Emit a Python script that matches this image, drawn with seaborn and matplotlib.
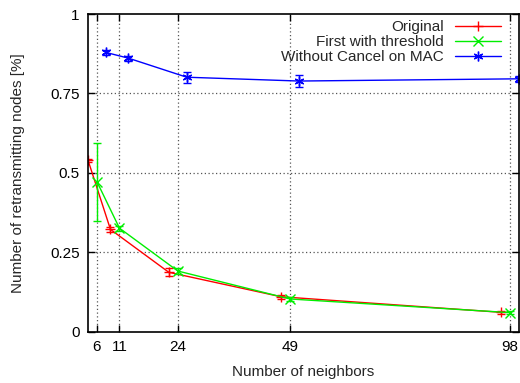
import matplotlib
matplotlib.use("Agg")
import matplotlib.pyplot as plt
import numpy as np
import pandas as pd
import seaborn as sns

# Measured share of retransmitting nodes versus neighbourhood size
original_x = [4, 9, 22, 47, 96]
original_y = [0.540, 0.322, 0.187, 0.110, 0.061]
original_err = [0.005, 0.008, 0.012, 0.006, 0.004]

threshold_x = [6, 11, 24, 49, 98]
threshold_y = [0.472, 0.326, 0.191, 0.103, 0.060]
threshold_err = [0.123, 0.008, 0.008, 0.005, 0.004]

nocancel_x = [8, 13, 26, 51, 100]
nocancel_y = [0.879, 0.861, 0.801, 0.789, 0.796]
nocancel_err = [0.007, 0.008, 0.018, 0.020, 0.010]

series_names = ["Original", "First with threshold", "Without Cancel on MAC"]
x_ticks = [6, 11, 24, 49, 98]
y_ticks = [0, 0.25, 0.5, 0.75, 1]
y_tick_labels = ["0", "0.25", "0.5", "0.75", "1"]

frames = []
for name, xs, ys, es in zip(series_names,
                            [original_x, threshold_x, nocancel_x],
                            [original_y, threshold_y, nocancel_y],
                            [original_err, threshold_err, nocancel_err]):
    frames.append(pd.DataFrame({"neighbors": xs, "share": ys, "err": es, "series": name}))
df = pd.concat(frames, ignore_index=True)

sns.set_style("ticks")
plt.rcParams["font.family"] = ["Liberation Sans", "DejaVu Sans"]

palette = {"Original": "#ff0000", "First with threshold": "#00ee00",
           "Without Cancel on MAC": "#0000ff"}
marker_style = {"Original": "+", "First with threshold": "x", "Without Cancel on MAC": (6, 2, 0)}

fig = plt.figure(figsize=(5.2, 3.83), dpi=100)
ax = fig.add_axes([88 / 520, 1 - 331.7 / 383, (519 - 88) / 520, (331.7 - 14) / 383])

for name in series_names:
    sub = df[df["series"] == name]
    sns.lineplot(data=sub, x="neighbors", y="share", ax=ax, color=palette[name],
                 linewidth=1.0, marker=marker_style[name], markersize=7,
                 markeredgewidth=1.0, markeredgecolor=palette[name],
                 label=name, sort=False, errorbar=None)
    ax.errorbar(sub["neighbors"], sub["share"], yerr=sub["err"], fmt="none",
                ecolor=palette[name], elinewidth=1.0, capsize=3, capthick=1.0)

ax.set_xlim(4, 100)
ax.set_ylim(0, 1)
ax.set_xticks(x_ticks)
ax.set_xticklabels([str(t) for t in x_ticks])
ax.set_yticks(y_ticks)
ax.set_yticklabels(y_tick_labels)

# Dotted grid at the inner ticks only
for t in x_ticks:
    ax.axvline(t, color="#555555", linestyle=(0, (1, 2)), linewidth=0.9, zorder=0)
for t in y_ticks[1:-1]:
    ax.axhline(t, color="#555555", linestyle=(0, (1, 2)), linewidth=0.9, zorder=0)

for side in ["top", "right", "bottom", "left"]:
    ax.spines[side].set_visible(True)
    ax.spines[side].set_linewidth(1.2)
    ax.spines[side].set_color("black")
ax.tick_params(direction="in", top=True, right=True, length=5, width=1,
               labelsize=11, pad=6, colors="black")

ax.set_xlabel("Number of neighbors", fontsize=11, labelpad=8)
ax.set_ylabel("Number of retransmitting nodes [%]", fontsize=11, labelpad=18)

leg = ax.legend(loc="upper right", bbox_to_anchor=(1 - 18 / 431, 1 - 6 / 317.7),
                frameon=False, markerfirst=False, fontsize=11,
                handlelength=3.0, handletextpad=0.75, labelspacing=0.08,
                borderpad=0, borderaxespad=0)

fig.savefig("out.png", dpi=100)
